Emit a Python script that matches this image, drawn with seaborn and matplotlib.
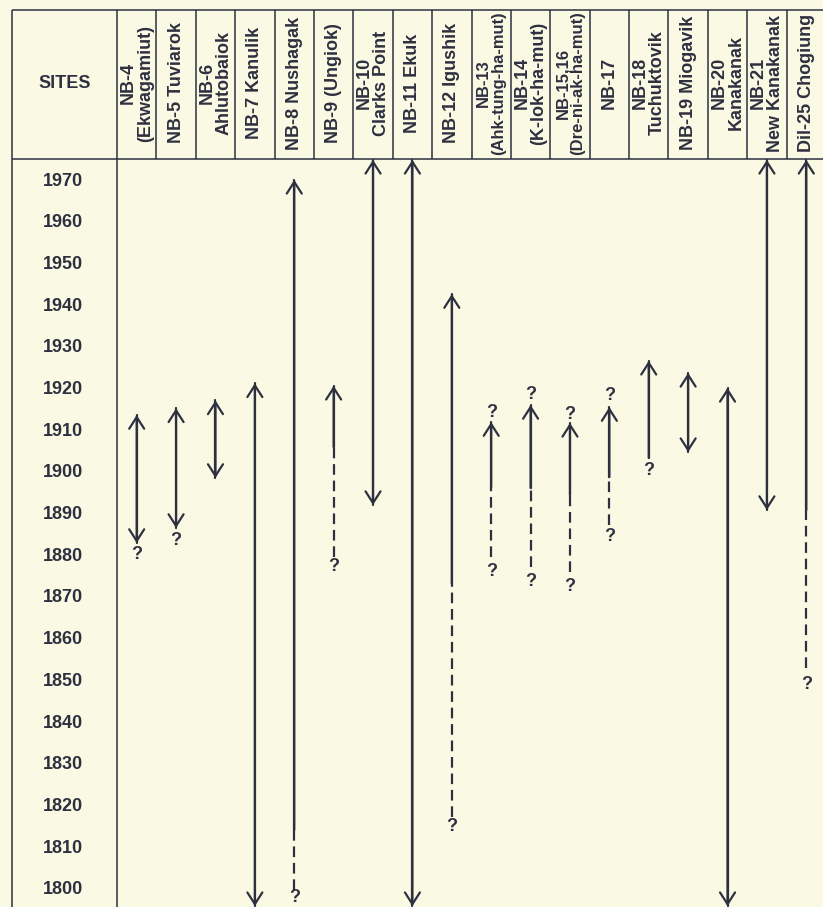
import numpy as np
import pandas as pd
import matplotlib
matplotlib.use("Agg")
import matplotlib.pyplot as plt
import seaborn as sns
from matplotlib.transforms import blended_transform_factory

# ---------------- data ----------------
sites = ["NB-4\n(Ekwagamiut)", "NB-5 Tuviarok", "NB-6\nAhlutobaiok", "NB-7 Kanulik",
         "NB-8 Nushagak", "NB-9 (Ungiok)", "NB-10\nClarks Point", "NB-11 Ekuk",
         "NB-12 Igushik", "NB-13\n(Ahk-tung-ha-mut)", "NB-14\n(K-lok-ha-mut)",
         "NB-15,16\n(Dre-ni-ak-ha-mut)", "NB-17", "NB-18\nTuchuktovik",
         "NB-19 Miogavik", "NB-20\nKanakanak", "NB-21\nNew Kanakanak", "Dil-25 Chogiung"]
years = [1970, 1960, 1950, 1940, 1930, 1920, 1910, 1900, 1890,
         1880, 1870, 1860, 1850, 1840, 1830, 1820, 1810, 1800]

solid_top = [1913.4, 1915.0, 1916.9, 1921.0, 1969.8, 1920.4, 1974.6, 1974.6, 1942.4,
             1911.7, 1915.8, 1911.5, 1915.3, 1926.4, 1923.5, 1919.9, 1974.6, 1974.6]
solid_bottom = [1882.7, 1886.3, 1898.3, 1795.6, 1813.9, 1905.7, 1891.8, 1795.6, 1873.0,
                1896.1, 1895.9, 1894.2, 1898.5, 1903.1, 1904.5, 1795.6, 1890.6, 1890.6]
head_top = [1, 1, 1, 1, 1, 1, 1, 1, 1, 1, 1, 1, 1, 1, 1, 1, 1, 1]
head_bottom = [1, 1, 1, 1, 0, 0, 1, 1, 0, 0, 0, 0, 0, 0, 1, 1, 1, 0]
dashed_bottom = [np.nan, np.nan, np.nan, np.nan, 1799.4, 1879.4, np.nan, np.nan, 1817.0,
                 1879.4, 1877.0, 1875.8, 1887.0, np.nan, np.nan, np.nan, np.nan, 1852.7]
q_upper = [np.nan, np.nan, np.nan, np.nan, np.nan, np.nan, np.nan, np.nan, np.nan,
           1914.0, 1918.4, 1913.6, 1918.0, np.nan, np.nan, np.nan, np.nan, np.nan]
q_lower = [1880.0, 1883.4, np.nan, np.nan, 1797.7, 1877.0, np.nan, np.nan, 1814.6,
           1875.8, 1873.4, 1872.2, 1884.2, 1900.0, np.nan, np.nan, np.nan, 1848.7]

# ---------------- style ----------------
BG = "#FAFAE4"
INK = "#2E3040"
sns.set_theme(style="white", rc={"figure.facecolor": BG, "axes.facecolor": BG})
plt.rcParams["font.family"] = ["Liberation Sans", "DejaVu Sans"]

W, H = 823, 907
fig = plt.figure(figsize=(W / 100, H / 100), dpi=100)

# layout in pixels
ax_left_px, ax_right_px = 117, 826
hdr_bot_px, top_px, frame_left_px = 159, 10, 12
ax = fig.add_axes([ax_left_px / W, 0, (ax_right_px - ax_left_px) / W, (H - hdr_bot_px) / H])
ax.set_facecolor(BG)
n = len(sites)

# ---------------- lines via seaborn ----------------
rows = []
for i in range(n):
    rows.append(dict(x=i, year=solid_top[i], seg=f"s{i}", kind="solid"))
    rows.append(dict(x=i, year=solid_bottom[i], seg=f"s{i}", kind="solid"))
    if not np.isnan(dashed_bottom[i]):
        rows.append(dict(x=i, year=solid_bottom[i], seg=f"d{i}", kind="dashed"))
        rows.append(dict(x=i, year=dashed_bottom[i], seg=f"d{i}", kind="dashed"))
df = pd.DataFrame(rows)
sns.lineplot(data=df, x="x", y="year", units="seg", estimator=None, style="kind",
             dashes={"solid": "", "dashed": (4.8, 2.6)}, color=INK, lw=1.6,
             legend=False, ax=ax)

ax.set_xlim(-0.5, n - 0.5)
ax.set_ylim(1795.4, 1974.8)
ax.set_xlabel("")
ax.set_ylabel("")
for s in ax.spines.values():
    s.set_visible(False)
ax.set_xticks([])
ax.set_yticks(years)
ax.set_yticklabels([str(y) for y in years])
pad_pt = (ax_left_px - 63) * 0.72
ax.tick_params(axis="y", length=0, pad=pad_pt, labelsize=13, labelcolor=INK)
for lab in ax.get_yticklabels():
    lab.set_ha("center")
    lab.set_fontweight("bold")

# arrow heads
for i in range(n):
    if head_top[i] and head_bottom[i]:
        style, xy, xyt = "<->", (i, solid_top[i]), (i, solid_bottom[i])
    elif head_top[i]:
        style, xy, xyt = "->", (i, solid_top[i]), (i, solid_bottom[i])
    else:
        style, xy, xyt = "->", (i, solid_bottom[i]), (i, solid_top[i])
    ax.annotate("", xy=xy, xytext=xyt, annotation_clip=False,
                arrowprops=dict(arrowstyle=f"{style},head_length=0.42,head_width=0.27",
                                color=INK, lw=1.6, shrinkA=0, shrinkB=0,
                                mutation_scale=20))

# question marks
for i in range(n):
    for q in (q_upper[i], q_lower[i]):
        if not np.isnan(q):
            ax.text(i, q, "?", ha="center", va="center", fontsize=13,
                    fontweight="bold", color=INK)

# ---------------- frame & header ----------------
ax_h = H - hdr_bot_px
ax_w = ax_right_px - ax_left_px
top_ax = 1 + (hdr_bot_px - top_px) / ax_h
left_ax = (frame_left_px - ax_left_px) / ax_w
trA = ax.transAxes
kw = dict(color=INK, lw=1.1, clip_on=False, solid_capstyle="butt")
ax.plot([left_ax, 1.2], [top_ax, top_ax], transform=trA, **kw)
ax.plot([left_ax, 1.2], [1, 1], transform=trA, **kw)
ax.plot([left_ax, left_ax], [0, top_ax], transform=trA, **kw)
ax.plot([0, 0], [0, top_ax], transform=trA, **kw)

blend = blended_transform_factory(ax.transData, trA)
for i in range(1, n + 1):
    ax.plot([i - 0.5, i - 0.5], [1, top_ax], transform=blend, **kw)

ax.text((left_ax + 0) / 2, 1 + (hdr_bot_px - 83) / ax_h, "SITES", transform=trA,
        ha="center", va="center", fontsize=13, fontweight="bold", color=INK)

renderer = fig.canvas.get_renderer()
y_center = 1 + (hdr_bot_px - 83) / ax_h
max_len = 144
for i, name in enumerate(sites):
    t = ax.text(i, y_center, name, transform=blend, rotation=90, ha="center",
                va="center", multialignment="center", fontsize=13,
                fontweight="bold", color=INK, linespacing=1.0, clip_on=False)
    ext = t.get_window_extent(renderer)
    if ext.height > max_len:
        t.set_fontsize(13 * max_len / ext.height)

fig.savefig("out.png", dpi=100, facecolor=BG)
